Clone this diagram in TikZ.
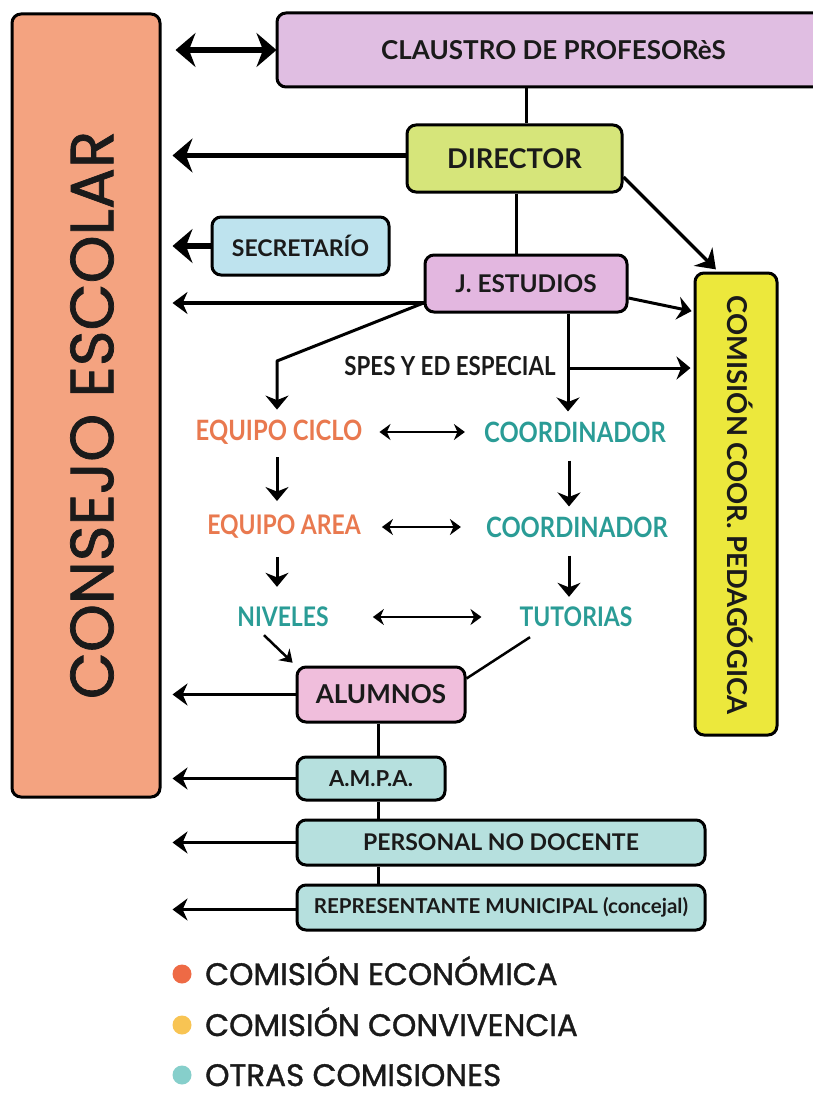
\documentclass[tikz,border=0pt]{standalone}
\usepackage{fontspec}
\setmainfont{Lato}
\newfontfamily\nf[FakeStretch=0.85]{Lato}
\newfontfamily\nw{Lato}
\newfontfamily\gf{Poppins}
\newfontfamily\gfb[FakeBold=1.2]{Poppins}
\usetikzlibrary{arrows.meta,calc}
\definecolor{consejo}{HTML}{F4A380}
\definecolor{claustro}{HTML}{E0BEE2}
\definecolor{director}{HTML}{D6E57A}
\definecolor{secre}{HTML}{BEE3EE}
\definecolor{jest}{HTML}{E3B7E0}
\definecolor{comis}{HTML}{ECE83C}
\definecolor{alum}{HTML}{F0BEDC}
\definecolor{ampa}{HTML}{B6E0DE}
\definecolor{orangetxt}{HTML}{E9794F}
\definecolor{tealtxt}{HTML}{2A9C96}
\definecolor{dotA}{HTML}{EE6A45}
\definecolor{dotB}{HTML}{F8C453}
\definecolor{dotC}{HTML}{86CFCB}
\definecolor{ink}{HTML}{1A1A1A}
\newcommand{\nfs}[1]{\nf\bfseries\fontsize{#1}{#1}\selectfont}
\newcommand{\nws}[1]{\nw\bfseries\fontsize{#1}{#1}\selectfont}
\begin{document}
\begin{tikzpicture}[x=1pt,y=-1pt,
  box/.style={draw=black, line width=3pt, rounded corners=9pt, inner sep=0pt, align=center, text=ink},
  lbl/.style={inner sep=0pt},
  conn/.style={line width=3pt},
  bigarr/.style={line width=5.5pt, -{Stealth[length=20pt,width=34pt]}},
  medarr/.style={line width=3.5pt, -{Stealth[length=15pt,width=22pt]}},
  smallarr/.style={line width=3pt, -{Stealth[length=14pt,width=23pt]}},
  dblarr/.style={line width=2.5pt, {Stealth[length=11pt,width=16pt]}-{Stealth[length=11pt,width=16pt]}},
  legtext/.style={inner sep=0pt, anchor=base west, text depth=0pt, font=\gfb\fontsize{31}{31}\selectfont, text=ink}
]
\useasboundingbox (0,0) rectangle (813,1097);
\fill[white] (0,0) rectangle (813,1097);

% boxes
\node[box, fill=consejo, minimum width=148pt, minimum height=783pt] (cons) at (86,405.5) {};
\node[lbl, rotate=90, font=\gfb\fontsize{61}{61}\selectfont, text=ink] (consT) at (92,415) {CONSEJO ESCOLAR};

\node[box, fill=claustro, minimum width=553pt, minimum height=74pt, font=\nws{26}] (cl) at (553.5,50) {CLAUSTRO DE PROFESORèS};
\node[box, fill=director, minimum width=215pt, minimum height=67pt, font=\nws{27.2}] (dir) at (514.5,158.5) {DIRECTOR};
\node[box, fill=secre, minimum width=177pt, minimum height=58pt, font=\nws{23}] (sec) at (300.5,246) {SECRETARÍO};
\node[box, fill=jest, minimum width=202pt, minimum height=57pt, font=\nws{24.4}] (je) at (526,283.5) {J. ESTUDIOS};
\node[box, fill=comis, minimum width=82pt, minimum height=462pt] (com) at (736,504) {};
\node[lbl, rotate=-90, font=\nws{27.4}, text=ink] (comT) at (740,505) {COMISIÓN COOR. PEDAGÓGICA};

\node[box, fill=alum, minimum width=168pt, minimum height=55pt, font=\nws{26}] (alu) at (381,694.5) {ALUMNOS};
\node[box, fill=ampa, minimum width=148pt, minimum height=43pt, font=\nws{22}] (ampa) at (371,778.5) {A.M.P.A.};
\node[box, fill=ampa, minimum width=408pt, minimum height=45pt, font=\nws{23}] (pers) at (501,842.5) {PERSONAL NO DOCENTE};
\node[box, fill=ampa, minimum width=408pt, minimum height=45pt, font=\nws{20.5}] (rep) at (501,907.5) {REPRESENTANTE MUNICIPAL (concejal)};

% labels
\node[lbl, font=\nfs{26.2}, text=ink] (spes) at (450,366) {SPES Y ED ESPECIAL};
\node[lbl, font=\nfs{28}, text=orangetxt] (ec) at (279,432) {EQUIPO CICLO};
\node[lbl, font=\nfs{28}, text=tealtxt] (c1) at (575,432) {COORDINADOR};
\node[lbl, font=\nfs{27}, text=orangetxt] (ea) at (284,527) {EQUIPO AREA};
\node[lbl, font=\nfs{28}, text=tealtxt] (c2) at (577,527) {COORDINADOR};
\node[lbl, font=\nfs{27}, text=tealtxt] (niv) at (283,617) {NIVELES};
\node[lbl, font=\nfs{27}, text=tealtxt] (tut) at (576,617) {TUTORIAS};

% helper coordinates
\coordinate (dirL) at ([yshift=3pt]dir.west);
\coordinate (repL) at ([yshift=-2pt]rep.west);
\coordinate (jeL) at ([yshift=-19.5pt]je.west);

% connectors to consejo
\draw[line width=5.5pt, {Stealth[length=20pt,width=34pt]}-{Stealth[length=20pt,width=34pt]}, shorten >=-1pt, shorten <=14pt] (cons.east |- cl.west) -- (cl.west);
\draw[bigarr, shorten >=11pt] (dirL) -- (cons.east |- dirL);
\draw[bigarr, shorten >=11pt] (sec.west) -- (cons.east |- sec.west);
\draw[medarr, shorten >=11pt] (jeL) -- (cons.east |- jeL);
\draw[medarr, shorten >=11pt] (alu.west) -- (cons.east |- alu.west);
\draw[medarr, shorten >=11pt] (ampa.west) -- (cons.east |- ampa.west);
\draw[medarr, shorten >=11pt] (pers.west) -- (cons.east |- pers.west);
\draw[medarr, shorten >=11pt] (repL) -- (cons.east |- repL);

% hierarchy
\draw[conn] ([xshift=11.5pt]dir.north) -- ([xshift=11.5pt]dir.north |- cl.south);
\draw[conn] ([xshift=1.5pt]dir.south) -- ([xshift=1.5pt]dir.south |- je.north);
\draw[line width=3.5pt, -{Stealth[length=18pt,width=26pt]}, shorten >=3pt] ([yshift=-18.5pt]dir.east) -- ([xshift=-18pt]com.north);
\draw[smallarr, shorten >=2pt] ([yshift=-14.5pt]je.east) -- ([yshift=-40pt]com.north west);

\coordinate (bend) at (277,361);
\draw[smallarr, shorten >=10pt, line join=round] (jeL) -- (bend) -- (bend |- ec.north);
\coordinate (jeD) at ([xshift=42pt]je.south);
\draw[smallarr, shorten >=10pt] (jeD) -- (jeD |- c1.north);
\coordinate (sj) at ([yshift=-2pt]jeD |- spes.east);
\draw[smallarr, shorten >=3pt] (sj) -- (sj -| com.west);

\draw[dblarr, shorten <=17pt, shorten >=19pt] (ec.east) -- (ec.east -| c1.west);
\draw[dblarr, shorten <=21pt, shorten >=25pt] (ea.east) -- (ea.east -| c2.west);
\draw[dblarr, shorten <=44pt, shorten >=38pt] (niv.east) -- (niv.east -| tut.west);

\draw[smallarr, shorten <=13pt, shorten >=14pt] ([xshift=-2pt]ec.south) -- ([xshift=-2pt]ec.south |- ea.north);
\draw[smallarr, shorten <=18pt, shorten >=20pt] ([xshift=-7pt]ea.south) -- ([xshift=-7pt]ea.south |- niv.north);
\draw[smallarr, shorten <=18pt, shorten >=10pt] ([xshift=-6pt]c1.south) -- ([xshift=-6pt]c1.south |- c2.north);
\draw[smallarr, shorten <=18pt, shorten >=10pt] ([xshift=-8pt]c2.south) -- ([xshift=-8pt]c2.south |- tut.north);

\draw[line width=2.5pt, -{Stealth[length=12pt,width=16pt]}, shorten >=4pt] ([xshift=-19pt,yshift=-8pt]niv.south) -- (alu.north west);
\draw[line width=2.5pt] ([xshift=-46pt,yshift=-10pt]tut.south) -- ([yshift=-13pt]alu.north east);

\coordinate (vx) at ([xshift=-3pt]alu.south);
\draw[conn] (vx) -- (vx |- ampa.north);
\draw[conn] (vx |- ampa.south) -- (vx |- pers.north);
\draw[conn] (vx |- pers.south) -- (vx |- rep.north);

% legend
\fill[dotA] (182,974) circle (9.5pt);
\fill[dotB] (182,1025) circle (9.5pt);
\fill[dotC] (182,1075) circle (9.5pt);
\node[legtext] (l1) at (205,985) {COMISIÓN ECONÓMICA};
\node[legtext] (l2) at (205,1036) {COMISIÓN CONVIVENCIA};
\node[legtext] (l3) at (205,1086) {OTRAS COMISIONES};
\end{tikzpicture}
\end{document}
